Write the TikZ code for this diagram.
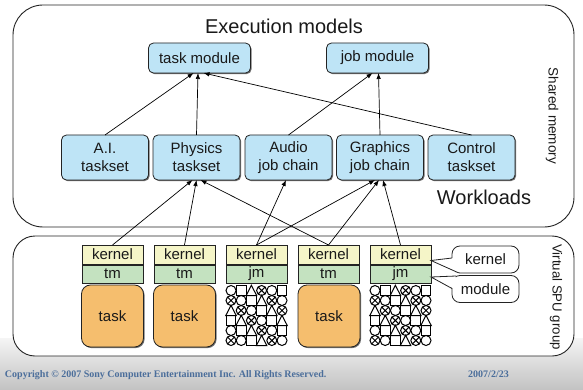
\documentclass[tikz,border=0pt]{standalone}
\usepackage{fontspec}
\setmainfont{Liberation Sans}
\newfontfamily\footfont{Liberation Serif}
\usetikzlibrary{arrows.meta,calc,shadows}

\definecolor{boxblue}{RGB}{190,228,246}
\definecolor{kyellow}{RGB}{245,245,200}
\definecolor{mgreen}{RGB}{196,226,192}
\definecolor{torange}{RGB}{245,190,110}
\definecolor{footblue}{RGB}{75,110,155}
\definecolor{edge}{RGB}{35,35,35}

\tikzset{
  pics/symgrid/.style={code={
    \foreach \r in {0,...,5}{
      \foreach \c in {0,...,5}{
        \pgfmathtruncatemacro\k{mod(\c-\r+8,4)}
        \pgfmathsetmacro\xx{(\c-2.5)*10.2}
        \pgfmathsetmacro\yy{(\r-2.5)*10}
        \ifcase\k
          \draw[line width=1pt] (\xx,\yy) circle[radius=5pt];
        \or
          \draw[line width=1pt] (\xx-4.9,\yy-4.9) rectangle (\xx+4.9,\yy+4.9);
        \or
          \draw[line width=1pt] (\xx-5.2,\yy+5) -- (\xx,\yy-5.2) -- (\xx+5.2,\yy+5) -- cycle;
        \or
          \draw[line width=1pt] (\xx,\yy) circle[radius=5pt]
            (\xx-3.5,\yy-3.5) -- (\xx+3.5,\yy+3.5)
            (\xx-3.5,\yy+3.5) -- (\xx+3.5,\yy-3.5);
        \fi
      }
    }
  }}
}

\begin{document}
\begin{tikzpicture}[x=1pt,y=-1pt,
  every node/.style={inner sep=0pt, outer sep=0pt, text=black!90},
  txt/.style={font=\fontsize{15}{18}\selectfont},
  frame/.style={draw=edge, line width=0.9pt, fill=white},
  shad/.style={drop shadow={shadow xshift=1.1pt, shadow yshift=-1.1pt, opacity=0.75, fill=black!75}},
  modbox/.style={txt, draw=edge, line width=0.8pt, fill=boxblue, rounded corners=5pt,
    minimum width=102pt, minimum height=30pt, shad},
  wlbox/.style={txt, align=center, draw=edge, line width=0.8pt, fill=boxblue, rounded corners=5pt,
    minimum width=87pt, minimum height=45pt, shad},
  kbox/.style={txt, draw=edge, line width=0.7pt, fill=kyellow, minimum width=61pt, minimum height=19pt, shad},
  mbox/.style={txt, draw=edge, line width=0.7pt, fill=mgreen, minimum width=61pt, minimum height=18pt, shad},
  tbox/.style={txt, draw=edge, line width=0.8pt, fill=torange, rounded corners=9pt, minimum width=62pt, minimum height=62pt, shad},
  gbox/.style={minimum width=60pt, minimum height=60pt},
  callout/.style={txt, draw=edge, line width=0.8pt, fill=white, rounded corners=8pt, minimum width=67pt, minimum height=27pt},
  arr/.style={line width=0.7pt, draw=black, -{Latex[length=6pt,width=4.5pt]}},
  wedge/.style={line width=0.8pt, draw=edge}
]
\useasboundingbox (0,0) rectangle (583,390);
\fill[white] (0,0) rectangle (583,390);
\shade[top color=black!4, bottom color=black!24] (0,338) rectangle (583,390);

% frames
\draw[frame, rounded corners=30pt] (13,5) rectangle (574,227);
\draw[frame, rounded corners=22pt] (13,236) rectangle (574,356);

% titles
\node[font=\fontsize{20}{22}\selectfont] (title) at (284,26) {Execution models};
\node[font=\fontsize{20}{22}\selectfont] (wl) at (484,197) {Workloads};
\node[font=\fontsize{13.5}{15}\selectfont, rotate=-90] (shm) at (552,116) {Shared memory};
\node[font=\fontsize{13.2}{15}\selectfont, rotate=-90] (vspu) at (556,297) {Virtual SPU group};

% modules
\node[modbox] (tmod) at (199.5,58) {task module};
\node[modbox] (jmod) at (377.5,58) {job module};

% workloads
\node[wlbox] (ai)    at (105,157.5)   {A.I.\\taskset};
\node[wlbox] (phys)  at (196.5,157.5) {Physics\\taskset};
\node[wlbox] (audio) at (288.5,157.5) {Audio\\job chain};
\node[wlbox] (graph) at (380,157.5)   {Graphics\\job chain};
\node[wlbox] (ctrl)  at (471.5,157.5) {Control\\taskset};

% SPU columns
\foreach \i/\x/\m in {1/112.5/tm, 2/184.5/tm, 3/256.5/jm, 4/328.5/tm, 5/400.5/jm}{
  \node[kbox] (k\i) at (\x,254.5) {kernel};
  \node[mbox] (m\i) at (\x,274) {\m};
}
\node[tbox] (t1) at (112.5,316) {task};
\node[tbox] (t2) at (184.5,316) {task};
\node[tbox] (t4) at (329,316) {task};
\node[gbox] (g3) at (256.5,315.5) {};
\node[gbox] (g5) at (400.5,315.5) {};
\pic at (g3) {symgrid};
\pic at (g5) {symgrid};

% callouts
\node[callout] (ck) at (485.5,259.5) {kernel};
\node[callout] (cm) at (485.5,289) {module};
\coordinate (ktip) at ($(k5.east)+(0,6)$);
\coordinate (mtip) at ($(m5.east)+(0,3)$);
\fill[white] (ktip) -- (453.5,258) -- (458,273.5) -- cycle;
\draw[wedge] (452,258) -- (ktip) -- (458,272.6);
\fill[white] (mtip) -- (456,276.5) -- (453.5,288.5) -- cycle;
\draw[wedge] (456,276) -- (mtip) -- (452,288.5);

% upper arrows
\draw[arr] (ai.north) -- ([xshift=-6pt]tmod.south);
\draw[arr] (phys.north) -- ([xshift=-1.5pt]tmod.south);
\draw[arr] (ctrl.north) -- ([xshift=4pt]tmod.south);
\draw[arr] (audio.north) -- ([xshift=-5pt]jmod.south);
\draw[arr] (graph.north) -- ([xshift=1pt]jmod.south);

% lower arrows
\draw[arr] (k1.north) -- ([xshift=-4pt]phys.south);
\draw[arr] (k2.north) -- ([xshift=0pt]phys.south);
\draw[arr] (k4.north) -- ([xshift=4pt]phys.south);
\draw[arr] (k3.north) -- ([xshift=-2.5pt]audio.south);
\draw[arr] (k3.north) -- ([xshift=-5pt]graph.south);
\draw[arr] (k4.north) -- ([xshift=-1pt]graph.south);
\draw[arr] (k5.north) -- ([xshift=3pt]graph.south);

% footer
\node[font=\footfont\bfseries\fontsize{10}{12}\selectfont, text=footblue, anchor=west] (copy) at (5,375) {Copyright © 2007 Sony Computer Entertainment Inc. All Rights Reserved.};
\node[font=\footfont\bfseries\fontsize{10}{12}\selectfont, text=footblue] (date) at (488.5,374) {2007/2/23};
\end{tikzpicture}
\end{document}
